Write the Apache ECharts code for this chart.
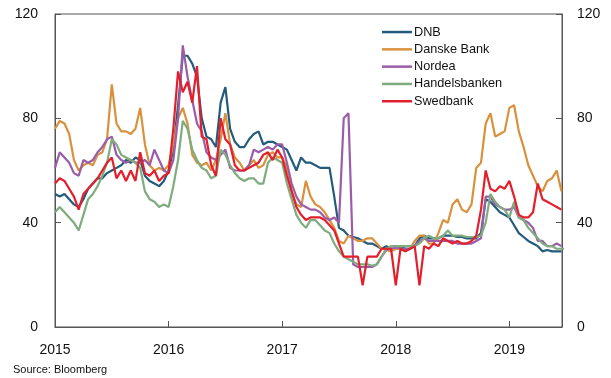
<!DOCTYPE html>
<html>
<head>
<meta charset="utf-8">
<script src="https://cdn.jsdelivr.net/npm/echarts@6/dist/echarts.min.js"></script>
<style>
html,body{margin:0;padding:0;background:#fff;}
#chart{width:611px;height:378px;}
</style>
</head>
<body>
<div id="chart"></div>
<script>
// Half-monthly observation grid: 2015-01 .. 2019-06 (decimal years)
const startYear = 2015;
const stepsPerYear = 24;
const yearLabels = ['2015', '2016', '2017', '2018', '2019'];
const seriesNames = ['DNB', 'Danske Bank', 'Nordea', 'Handelsbanken', 'Swedbank'];

const dnb = [51,50,51,49,47,46,49,53,55,57,57,59,60,61,62,64,63,65,64,58,56,55,54,56,60,68,85,104,104,101,96,80,73,72,69,86,92,76,71,69,69,72,74,75,70,71,71,70,69,68,64,60,65,63,63,62,61,61,61,50,38,37,35,34.5,34,33,32,32,31,30,31,30,30,31,30,30,31,34,35,34,34,34,35,35,35,34.5,34.5,34,34,34,36,49,48,46,44,43,42,39,36,34.5,33,32,31,29,29.5,29,29,29];
const danske = [76,79,78,74,64,60,62,63,62,66,67,72,93,78,75,75,74,76,84,70,62,60,61,60,62,70,80,84,78,66,63,62,63,60,64,72,82,70,65,63,60,62,64,61,62,66,67,65,65,61,52,47,46,56,50,47,46,44,41,38,33,32,35,34,33,33,34,34,32,30,29.5,29,30,30,29,30,33,35,35,32,32,36,41,40,47,49,45,44,47,61,63,78,82,73,74,75,84,85,75,69,62,58,54,52,56,57,60,52];
const nordea = [61,67,65,63,59,58,64,63,64,67,69,72,73,66,64,63,64,63,63,64,62,68,64,60,59,64,80,108,96,87,78,75,67,65,64,66,68,61,60,60,60,62,68,67,68,69,68,70,70,63,55,50,47,46,45,45,44,42,41,42,40,80,82,24,23,23,23,23,24,27,29.5,30,30.5,30,30,30,31,33,34,33,33,33,33,33,33,32,32,32,32,33,34,50,50,47,46,45,45,46,42,41,40,38,33,33,31,31,32,31];
const handels = [44,46,44,42,40,37,43,49,51,54,58,63,72,70,66,65,64,63,61,52,49,48,46,47,46,54,64,79,76,68,64,61,60,57,58,68,66,62,59,57,56,57,57,55,55,63,65,64,63,55,49,43,40,38,41,41,39,37,36,32,29,27,26,25,24,24,24,23.5,24,27,30,31,31,31,31,31,31,32,34,35,34,34,35,37,35,35,35,34.5,34.5,34.5,35,40,51,48,46,45,42,48,42,41,38,36,34,32,31,31,30,30,30];
const swed = [55,57,56,53,50,45,51,53,55,57,60,63,65,57,60,56,60,56,67,59,58,60,56,58,59,76,98,90,94,86,100,73,72,62,58,80,72,70,62,60,60,61,62,63,66,67,64,68,65,58,52,46,43,41,42,42,42,41,39,37,32,27,27,27,27,16,27,27,27,30,30,30,16,30,29,30,31,16,31,30,32,31,34,33,32,33,32,32,33,35,45,60,53,52,54,53,56,50,43,42,42,44,55,49,48,47,46,45];

const colors = ['#235b7c', '#d8913d', '#9b5da7', '#7fac7e', '#e31f2c'];
const seriesValues = [dnb, danske, nordea, handels, swed];

function pairs(vals) {
  return vals.map((v, i) => [startYear + i / stepsPerYear, v]);
}

const chart = echarts.init(document.getElementById('chart'), null, {renderer: 'canvas'});
const axisColor = '#555';
const font = '"Liberation Sans", Arial, Helvetica, sans-serif';
const xMax = 2015 + 107 / 24 + 0.005;

const option = {
  animation: false,
  backgroundColor: '#fff',
  grid: {left: 55, right: 49, top: 14, bottom: 51, containLabel: false,
         show: true, borderColor: axisColor, borderWidth: 1, backgroundColor: 'transparent'},
  legend: {
    orient: 'vertical',
    left: 382,
    top: 23.4,
    padding: 0,
    icon: 'rect',
    itemWidth: 30,
    itemHeight: 2.5,
    itemGap: 0,
    data: seriesNames,
    textStyle: {fontFamily: font, fontSize: 12.7, color: '#111', lineHeight: 17.3, padding: [0, 0, 0, -3]}
  },
  xAxis: {
    type: 'value',
    min: 2015,
    max: xMax,
    interval: 1,
    position: 'bottom',
    axisLine: {show: true, lineStyle: {color: axisColor, width: 1}},
    axisTick: {show: true, inside: true, length: 6, lineStyle: {color: axisColor}},
    axisLabel: {
      margin: 16,
      fontFamily: font, fontSize: 14, color: '#111',
      showMaxLabel: false,
      formatter: function (v) {
        const idx = Math.round(v) - startYear;
        return Math.abs(v - Math.round(v)) < 1e-6 && yearLabels[idx] ? yearLabels[idx] : '';
      }
    },
    splitLine: {show: false}
  },
  yAxis: [{
    type: 'value', min: 0, max: 120, interval: 40, position: 'left',
    axisLine: {show: true, lineStyle: {color: axisColor, width: 1}},
    axisTick: {show: true, inside: true, length: 6, lineStyle: {color: axisColor}},
    axisLabel: {margin: 17, fontFamily: font, fontSize: 14, color: '#111'},
    splitLine: {show: false}
  }, {
    type: 'value', min: 0, max: 120, interval: 40, position: 'right',
    axisLine: {show: true, lineStyle: {color: axisColor, width: 1}},
    axisTick: {show: true, inside: true, length: 6, lineStyle: {color: axisColor}},
    axisLabel: {margin: 15, fontFamily: font, fontSize: 14, color: '#111'},
    splitLine: {show: false}
  }],
  series: seriesNames.map((name, k) => ({
    name: name,
    type: 'line',
    xAxisIndex: 0,
    yAxisIndex: 0,
    data: pairs(seriesValues[k]),
    showSymbol: false,
    symbol: 'none',
    lineStyle: {color: colors[k], width: 2.2},
    itemStyle: {color: colors[k]},
    z: 2 + k
  })),
  graphic: [{
    type: 'text',
    left: 13,
    top: 364,
    style: {text: 'Source: Bloomberg', font: '11px ' + font, fill: '#111'}
  }]
};
chart.setOption(option);
</script>
</body>
</html>
